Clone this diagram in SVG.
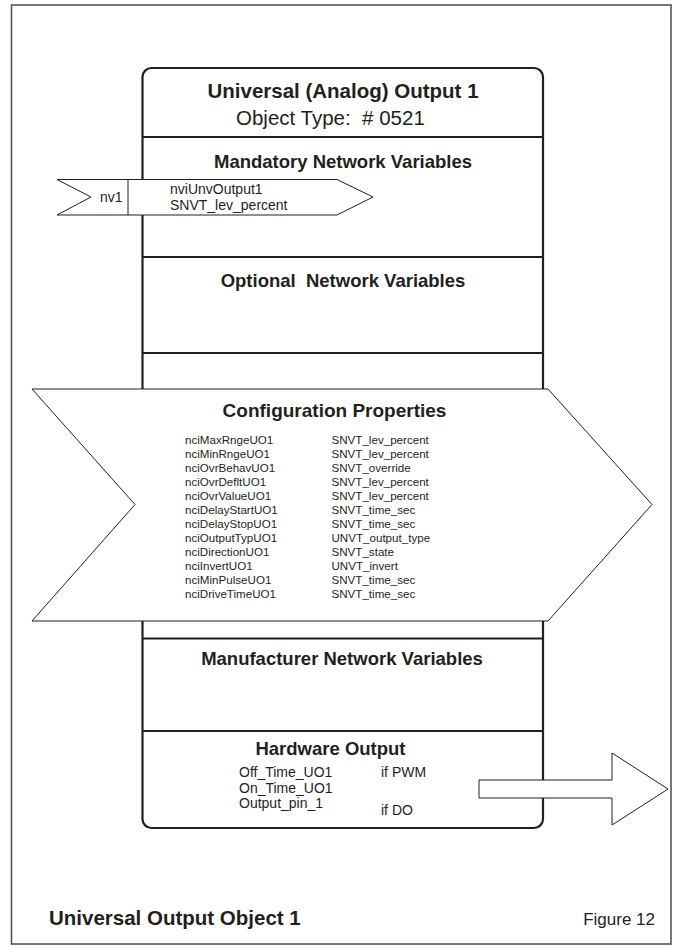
<svg xmlns="http://www.w3.org/2000/svg" width="675" height="947" viewBox="0 0 675 947">
<style>
.frame{fill:#fff;stroke:#555;stroke-width:1.6}
.box{fill:#fff;stroke:#231f20;stroke-width:2.2}
.div{stroke:#231f20;stroke-width:2.2}
.arrow{fill:#fff;stroke:#231f20;stroke-width:1}
text{font-family:"Liberation Sans",Arial,Helvetica,sans-serif;fill:#231f20}
.h1{font-size:20.5px;font-weight:bold}
.h2{font-size:18.5px;font-weight:bold}
.t14{font-size:14px}
.t12{font-size:11.6px}
.mid{text-anchor:middle}
</style>
<rect class="frame" x="11.5" y="5" width="659.5" height="939"/>
<g id="object">
<rect class="box" x="142.5" y="68" width="400.5" height="760" rx="9"/>
<text class="h1 mid" x="343" y="98">Universal (Analog) Output 1</text>
<text x="236" y="125" style="font-size:20.5px" xml:space="preserve">Object Type:  # 0521</text>
</g>
<g id="dividers">
<line class="div" x1="142.5" y1="137" x2="543" y2="137"/>
<line class="div" x1="142.5" y1="257" x2="543" y2="257"/>
<line class="div" x1="142.5" y1="353" x2="543" y2="353"/>
<line class="div" x1="142.5" y1="638.5" x2="543" y2="638.5"/>
<line class="div" x1="142.5" y1="731" x2="543" y2="731"/>
</g>
<g id="mandatory">
<text class="h2 mid" x="343" y="168">Mandatory Network Variables</text>
</g>
<g id="nv1">
<polygon class="arrow" points="57,179.5 337,179.5 373,197 337,215 57,215 91,197"/>
<line class="arrow" x1="128" y1="179.5" x2="128" y2="215"/>
<text class="t14" x="100" y="202">nv1</text>
<text class="t14" x="170" y="193.5">nviUnvOutput1</text>
<text class="t14" x="170" y="210">SNVT_lev_percent</text>
</g>
<g id="optional">
<text class="h2 mid" x="343" y="287" xml:space="preserve">Optional  Network Variables</text>
</g>
<g id="config">
<polygon class="arrow" points="32,389 548,389 652,504.5 548,621 32,621 135,504.5"/>
<text class="h2 mid" x="334.5" y="417" style="font-size:19px">Configuration Properties</text>
<g class="t12">
<text x="185" y="444">nciMaxRngeUO1</text>
<text x="185" y="458">nciMinRngeUO1</text>
<text x="185" y="472">nciOvrBehavUO1</text>
<text x="185" y="486">nciOvrDefltUO1</text>
<text x="185" y="500">nciOvrValueUO1</text>
<text x="185" y="514">nciDelayStartUO1</text>
<text x="185" y="528">nciDelayStopUO1</text>
<text x="185" y="542">nciOutputTypUO1</text>
<text x="185" y="556">nciDirectionUO1</text>
<text x="185" y="570">nciInvertUO1</text>
<text x="185" y="584">nciMinPulseUO1</text>
<text x="185" y="598">nciDriveTimeUO1</text>
<text x="331.5" y="444">SNVT_lev_percent</text>
<text x="331.5" y="458">SNVT_lev_percent</text>
<text x="331.5" y="472">SNVT_override</text>
<text x="331.5" y="486">SNVT_lev_percent</text>
<text x="331.5" y="500">SNVT_lev_percent</text>
<text x="331.5" y="514">SNVT_time_sec</text>
<text x="331.5" y="528">SNVT_time_sec</text>
<text x="331.5" y="542">UNVT_output_type</text>
<text x="331.5" y="556">SNVT_state</text>
<text x="331.5" y="570">UNVT_invert</text>
<text x="331.5" y="584">SNVT_time_sec</text>
<text x="331.5" y="598">SNVT_time_sec</text>
</g>
</g>
<g id="manufacturer">
<text class="h2 mid" x="342" y="665">Manufacturer Network Variables</text>
</g>
<g id="hardware">
<text class="h2 mid" x="330.5" y="755">Hardware Output</text>
<text class="t14" x="239" y="777">Off_Time_UO1</text>
<text class="t14" x="239" y="793">On_Time_UO1</text>
<text class="t14" x="239" y="808">Output_pin_1</text>
<text class="t14" x="381" y="777">if PWM</text>
<text class="t14" x="381" y="815">if DO</text>
</g>
<g id="connectors">
<polygon class="arrow" points="479,780 612,780 612,753 668,789 612,825 612,798 479,798"/>
</g>
<g id="caption">
<text x="49" y="925" style="font-size:20.5px;font-weight:bold">Universal Output Object 1</text>
<text x="655" y="925" style="font-size:17px;text-anchor:end">Figure 12</text>
</g>
</svg>
